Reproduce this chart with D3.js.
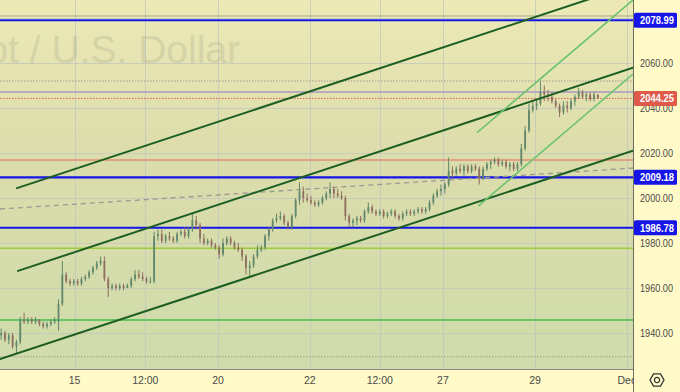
<!DOCTYPE html>
<html><head><meta charset="utf-8">
<script src="https://cdn.jsdelivr.net/npm/d3@7"></script>
<style>html,body{margin:0;padding:0;background:#fffac8;}svg{display:block;}</style>
</head><body><svg id="c" width="680" height="392"></svg>
<script>
// ---- data ----
const opens = [1939,1940,1937,1939,1934,1936,1946,1945,1946,1945,1946,1944,1943,1944,1945,1945,1953,1966,1963,1962,
1963,1962,1964,1965,1967,1969,1971,1972,1964,1960,1961,1960,1961,1960,1961,1964,1966,1965,1964,1963,
1963,1983,1984,1981,1983,1982,1981,1984,1985,1983,1986,1990,1988,1982,1980,1981,1979,1978,1975,1980,
1982,1980,1978,1977,1974,1969,1970,1974,1977,1978,1983,1986,1990,1991,1992,1989,1987,1992,1999,2003,
2000,1999,1998,1997,1998,2000,2002,2004,2002,2001,2000,1992,1989,1990,1991,1990,1994,1996,1994,1993,
1994,1992,1993,1994,1992,1991,1993,1994,1993,1994,1995,1994,1995,1998,2001,2003,2004,2006,2012,2011,
2013,2012,2014,2012,2014,2013,2009,2013,2015,2016,2017,2015,2016,2014,2015,2013,2015,2022,2030,2039,
2041,2042,2047,2046,2045,2043,2041,2038,2041,2040,2043,2045,2047,2045,2046,2044,2046];
const highs = [1942,1941,1940,1940,1937,1947,1949,1947,1947,1947,1946,1945,1945,1946,1947,1955,1972,1967,1964,1964,
1964,1965,1966,1968,1970,1972,1974,1974,1965,1962,1962,1962,1962,1962,1965,1968,1968,1967,1965,1965,
1985,1986,1986,1984,1985,1983,1985,1986,1987,1987,1993,1992,1989,1984,1982,1982,1980,1979,1982,1983,
1983,1981,1980,1978,1975,1972,1975,1979,1979,1984,1987,1991,1993,1994,1993,1990,1993,2000,2007,2005,
2002,2001,1999,1999,2001,2003,2007,2005,2004,2003,2001,1993,1991,1992,1992,1995,1998,1997,1995,1995,
1995,1994,1995,1995,1993,1994,1995,1995,1995,1996,1996,1996,1999,2002,2004,2006,2007,2018,2014,2014,
2015,2015,2015,2015,2015,2014,2014,2016,2017,2018,2018,2017,2017,2016,2016,2016,2024,2032,2042,2043,
2044,2052,2050,2048,2047,2044,2042,2043,2043,2044,2046,2049,2048,2047,2047,2047,2046];
const lows = [1937,1936,1935,1933,1931,1935,1944,1944,1944,1944,1943,1942,1942,1943,1944,1941,1952,1962,1961,1961,
1961,1961,1963,1964,1966,1968,1970,1963,1956,1959,1959,1959,1959,1960,1960,1963,1964,1963,1962,1962,
1962,1981,1980,1980,1981,1980,1980,1983,1982,1982,1985,1986,1980,1979,1979,1978,1977,1973,1974,1979,
1979,1977,1976,1972,1966,1965,1969,1973,1976,1977,1981,1985,1989,1990,1988,1986,1986,1991,1997,1998,
1998,1997,1996,1996,1997,1999,2000,2000,2000,1999,1990,1987,1987,1988,1989,1989,1993,1993,1992,1992,
1991,1991,1992,1991,1990,1990,1992,1992,1992,1993,1993,1993,1994,1997,2000,2001,2002,2005,2009,2010,
2011,2010,2011,2011,2012,2006,2008,2012,2013,2015,2014,2014,2013,2012,2012,2012,2014,2021,2029,2038,
2039,2041,2043,2043,2042,2040,2036,2037,2038,2039,2041,2044,2044,2043,2043,2043,2044];
const closes = [1940,1937,1939,1934,1936,1946,1945,1946,1945,1946,1944,1943,1944,1945,1946,1953,1966,1963,1962,1963,
1962,1964,1965,1967,1969,1971,1972,1964,1960,1961,1960,1961,1960,1961,1964,1966,1965,1964,1963,1963,
1983,1984,1981,1983,1982,1981,1984,1985,1983,1986,1990,1988,1982,1980,1981,1979,1978,1975,1980,1982,
1980,1978,1977,1974,1969,1970,1974,1977,1978,1983,1986,1990,1991,1992,1989,1987,1992,1999,2003,2000,
1999,1998,1997,1998,2000,2002,2004,2002,2001,2000,1992,1989,1990,1991,1990,1994,1996,1994,1993,1994,
1992,1993,1994,1992,1991,1993,1994,1993,1994,1995,1994,1995,1998,2001,2003,2004,2006,2012,2011,2013,
2012,2014,2012,2014,2013,2009,2013,2015,2016,2017,2015,2016,2014,2015,2013,2015,2022,2030,2039,2041,
2042,2047,2046,2045,2043,2041,2038,2041,2040,2043,2045,2047,2045,2046,2044,2046,2044.25];

const gridPrices = [1940,1960,1980,2000,2020,2040,2060,2080];
const priceTicks = [1940,1960,1980,2000,2020,2040,2060];
const timeTickBars = [19.5,38,57,81,99.3,115.8,139.9,163.9];
const timeTickLabels = ["15","12:00","20","22","12:00","27","29","Dec"];

// horizontal levels
const blueLevels = [2078.99, 2009.18, 1986.78];
const levelLines = [
  {p:2080.9, color:"#a7a78f", w:1, dash:null},
  {p:2052.0, color:"#a09a8a", w:1, dash:"1.5,1.5"},
  {p:2047.1, color:"#9277c9", w:1, dash:null},
  {p:2016.9, color:"#e06a5a", w:1.2, dash:null},
  {p:1977.7, color:"#9ccc3a", w:1.6, dash:null},
  {p:1945.8, color:"#63c763", w:2, dash:null},
  {p:1929.5, color:"#a0a090", w:1, dash:"1.5,1.5"}
];
const lastPrice = 2044.25;
// sloped lines: [bar0, price0, bar1, price1]
const channelLines = [
  [4.44, 2004.4, 165.5, 2094.8],
  [4.7, 1967.6, 165.5, 2057.9],
  [0, 1928.4, 165.5, 2021.0]
];
const lightLines = [
  [124.7, 2029.0, 165.5, 2088.0],
  [125.05, 1996.4, 165.5, 2055.1]
];
const dashedTrend = [0, 1995.1, 165.5, 2013.3];

// ---- drawing ----
const W = 680, H = 392, PW = 633, PH = 369;
const svg = d3.select("#c");
const x = d3.scaleLinear().domain([0,165.5]).range([0,PW]);
const y = d3.scaleLinear().domain([1940,2060]).range([333,63]);

const defs = svg.append("defs");
const grad = defs.append("linearGradient").attr("id","bg").attr("x1",0).attr("y1",0).attr("x2",0).attr("y2",1);
grad.append("stop").attr("offset","0%").attr("stop-color","#ece9b6");
grad.append("stop").attr("offset","45%").attr("stop-color","#dbdcab");
grad.append("stop").attr("offset","100%").attr("stop-color","#cfdcab");
defs.append("clipPath").attr("id","clip").append("rect").attr("width",PW).attr("height",PH);

svg.append("rect").attr("width",W).attr("height",H).attr("fill","#fffac8");
svg.append("rect").attr("width",PW).attr("height",PH).attr("fill","url(#bg)");

const plot = svg.append("g").attr("clip-path","url(#clip)");

// grid
plot.append("g").selectAll("line").data(gridPrices).join("line")
  .attr("x1",0).attr("x2",PW).attr("y1",d=>Math.round(y(d))+0.5).attr("y2",d=>Math.round(y(d))+0.5)
  .attr("stroke","#c3c8bf").attr("stroke-width",1).attr("opacity",0.8);
plot.append("g").selectAll("line").data(timeTickBars).join("line")
  .attr("y1",0).attr("y2",PH).attr("x1",d=>Math.round(x(d))+0.5).attr("x2",d=>Math.round(x(d))+0.5)
  .attr("stroke","#c3c8bf").attr("stroke-width",1).attr("opacity",0.8);

// watermark (clipped at the left edge, as in the reference)
plot.append("text").attr("x",240).attr("y",63).attr("text-anchor","end")
  .attr("font-family","Liberation Sans, Arial, sans-serif").attr("font-size",39)
  .attr("fill","#7a7a6a").attr("opacity",0.16).text("Gold Spot / U.S. Dollar");

// horizontal levels
plot.append("g").selectAll("line").data(levelLines).join("line")
  .attr("x1",0).attr("x2",PW).attr("y1",d=>y(d.p)).attr("y2",d=>y(d.p))
  .attr("stroke",d=>d.color).attr("stroke-width",d=>d.w).attr("stroke-dasharray",d=>d.dash);
plot.append("g").selectAll("line").data(blueLevels).join("line")
  .attr("x1",0).attr("x2",PW).attr("y1",d=>y(d)).attr("y2",d=>y(d))
  .attr("stroke","#1515e8").attr("stroke-width",2.2);

// dashed trend
plot.append("line").attr("x1",x(dashedTrend[0])).attr("y1",y(dashedTrend[1]))
  .attr("x2",x(dashedTrend[2])).attr("y2",y(dashedTrend[3]))
  .attr("stroke","#9a9a90").attr("stroke-width",1.3).attr("stroke-dasharray","5,4");

// current price line
plot.append("line").attr("x1",0).attr("x2",PW).attr("y1",y(lastPrice)).attr("y2",y(lastPrice))
  .attr("stroke","#e0604f").attr("stroke-width",1).attr("stroke-dasharray","1.5,1.5");

// candles
const idx = d3.range(closes.length);
const cx = i => x(i + 0.3);
const up = "#62876a", dn = "#8f6f60";
const cg = plot.append("g");
cg.selectAll("line").data(idx).join("line")
  .attr("x1",i=>cx(i)).attr("x2",i=>cx(i)).attr("y1",i=>y(highs[i])).attr("y2",i=>y(lows[i]))
  .attr("stroke",i=>closes[i]>=opens[i]?up:dn).attr("stroke-width",1);
cg.selectAll("rect").data(idx).join("rect")
  .attr("x",i=>cx(i)-0.9).attr("width",1.8)
  .attr("y",i=>y(Math.max(opens[i],closes[i])))
  .attr("height",i=>Math.max(1,Math.abs(y(opens[i])-y(closes[i]))))
  .attr("fill",i=>closes[i]>=opens[i]?up:dn);

// channel lines
plot.append("g").selectAll("line").data(channelLines).join("line")
  .attr("x1",d=>x(d[0])).attr("y1",d=>y(d[1])).attr("x2",d=>x(d[2])).attr("y2",d=>y(d[3]))
  .attr("stroke","#1c5e22").attr("stroke-width",2).attr("stroke-linecap","round");
plot.append("g").selectAll("line").data(lightLines).join("line")
  .attr("x1",d=>x(d[0])).attr("y1",d=>y(d[1])).attr("x2",d=>x(d[2])).attr("y2",d=>y(d[3]))
  .attr("stroke","#6cc26c").attr("stroke-width",1.6);

// axes borders
svg.append("line").attr("x1",0).attr("x2",PW).attr("y1",PH+0.5).attr("y2",PH+0.5).attr("stroke","#8a8a80");
svg.append("line").attr("x1",PW+0.5).attr("x2",PW+0.5).attr("y1",0).attr("y2",H).attr("stroke","#6d6d66");

// time axis labels
svg.append("g").selectAll("text").data(timeTickBars).join("text")
  .attr("x",d=>x(d)).attr("y",384).attr("text-anchor","middle")
  .attr("font-family","Liberation Sans, Arial, sans-serif").attr("font-size",10.5)
  .attr("fill","#4a4a4a").text((d,i)=>timeTickLabels[i]);

// price axis panel
svg.append("rect").attr("x",PW+1).attr("y",0).attr("width",W-PW-1).attr("height",H).attr("fill","#fffac8");
const fmt = d3.format(".2f");
svg.append("g").selectAll("text").data(priceTicks).join("text")
  .attr("x",640).attr("y",d=>y(d)+3.5)
  .attr("font-family","Liberation Sans, Arial, sans-serif").attr("font-size",10.5)
  .attr("textLength",33).attr("lengthAdjust","spacingAndGlyphs")
  .attr("fill","#4a4a4a").text(d=>fmt(d));

const boxes = blueLevels.map(p=>({p, fill:"#1515e8"})).concat([{p:lastPrice, fill:"#df5a4b"}]);
const bg = svg.append("g").selectAll("g").data(boxes).join("g");
bg.append("rect").attr("x",PW+1).attr("y",d=>y(d.p)-7.5).attr("width",43).attr("height",15)
  .attr("rx",1.5).attr("fill",d=>d.fill);
bg.append("text").attr("x",640).attr("y",d=>y(d.p)+3.8)
  .attr("font-family","Liberation Sans, Arial, sans-serif").attr("font-size",10.5).attr("font-weight","bold")
  .attr("textLength",34).attr("lengthAdjust","spacingAndGlyphs")
  .attr("fill","#ffffff").text(d=>fmt(d.p));

// settings icon
const gi = svg.append("g").attr("transform","translate(657,380)");
const hex = d3.range(6).map(k=>[7*Math.cos(Math.PI/3*k), 7*Math.sin(Math.PI/3*k)]);
gi.append("path").attr("d","M"+hex.map(p=>p.join(",")).join("L")+"Z").attr("fill","none").attr("stroke","#333").attr("stroke-width",1.3);
gi.append("circle").attr("r",2.6).attr("fill","none").attr("stroke","#333").attr("stroke-width",1.3);
</script></body></html>
